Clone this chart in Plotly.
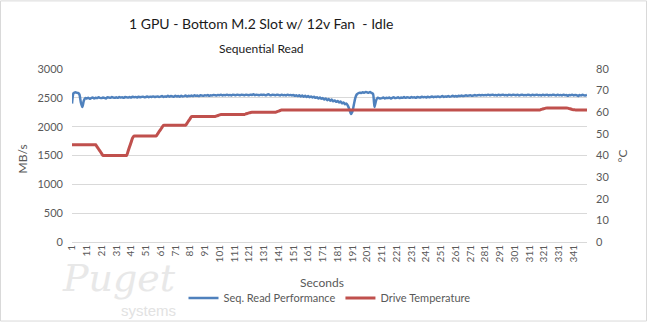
import plotly.graph_objects as go

seconds = list(range(1, 351))
tick_labels = [str(s) for s in range(1, 342, 10)]

read_mbps = [
    2400, 2580, 2595, 2590, 2585, 2560, 2420, 2340, 2450, 2495,
    2490, 2500, 2485, 2495, 2505, 2490, 2500, 2495, 2510, 2500,
    2495, 2505, 2500, 2490, 2510, 2505, 2500, 2515, 2505, 2500,
    2510, 2500, 2515, 2505, 2510, 2500, 2515, 2510, 2505, 2515,
    2505, 2520, 2510, 2515, 2505, 2520, 2510, 2515, 2520, 2510,
    2515, 2525, 2510, 2520, 2515, 2525, 2515, 2520, 2525, 2515,
    2520, 2530, 2515, 2525, 2520, 2535, 2520, 2530, 2525, 2520,
    2535, 2525, 2530, 2520, 2535, 2525, 2530, 2540, 2525, 2535,
    2530, 2540, 2530, 2545, 2535, 2540, 2530, 2545, 2540, 2535,
    2545, 2540, 2550, 2535, 2545, 2540, 2550, 2545, 2540, 2550,
    2545, 2555, 2540, 2550, 2545, 2555, 2545, 2550, 2540, 2555,
    2550, 2545, 2555, 2550, 2545, 2555, 2550, 2545, 2555, 2550,
    2545, 2555, 2550, 2560, 2545, 2555, 2550, 2545, 2555, 2550,
    2555, 2545, 2550, 2560, 2550, 2545, 2555, 2550, 2545, 2555,
    2550, 2540, 2555, 2545, 2550, 2540, 2555, 2545, 2550, 2540,
    2550, 2535, 2545, 2530, 2545, 2525, 2540, 2520, 2535, 2515,
    2530, 2510, 2525, 2505, 2520, 2500, 2510, 2490, 2505, 2485,
    2495, 2470, 2490, 2460, 2480, 2450, 2470, 2440, 2455, 2430,
    2445, 2420, 2435, 2405, 2420, 2390, 2400, 2360, 2300, 2220,
    2260, 2380, 2500, 2560, 2580, 2590, 2585, 2595, 2590, 2600,
    2595, 2590, 2600, 2585, 2570, 2340, 2450, 2500, 2495, 2490,
    2495, 2505, 2490, 2500, 2495, 2505, 2490, 2500, 2510, 2495,
    2500, 2510, 2495, 2505, 2500, 2515, 2500, 2510, 2505, 2500,
    2515, 2505, 2510, 2500, 2515, 2510, 2505, 2520, 2510, 2515,
    2505, 2520, 2510, 2515, 2525, 2510, 2520, 2515, 2525, 2515,
    2520, 2530, 2515, 2525, 2520, 2530, 2520, 2525, 2535, 2525,
    2530, 2525, 2535, 2530, 2540, 2530, 2535, 2545, 2535, 2540,
    2545, 2535, 2540, 2550, 2540, 2545, 2550, 2540, 2550, 2545,
    2550, 2545, 2555, 2545, 2550, 2555, 2545, 2550, 2540, 2555,
    2545, 2550, 2555, 2545, 2550, 2540, 2555, 2550, 2545, 2555,
    2550, 2545, 2555, 2540, 2550, 2555, 2545, 2550, 2545, 2555,
    2550, 2540, 2555, 2545, 2550, 2555, 2545, 2550, 2540, 2555,
    2545, 2550, 2555, 2540, 2550, 2545, 2555, 2550, 2540, 2555,
    2545, 2550, 2540, 2555, 2545, 2550, 2535, 2550, 2545, 2555,
    2540, 2550, 2545, 2530, 2550, 2540, 2555, 2545, 2540, 2550,
]

drive_temp_c = [
    45, 45, 45, 45, 45, 45, 45, 45, 45, 45,
    45, 45, 45, 45, 45, 45, 45, 44, 43, 42,
    41, 40, 40, 40, 40, 40, 40, 40, 40, 40,
    40, 40, 40, 40, 40, 40, 40, 40, 42, 44,
    46, 48, 49, 49, 49, 49, 49, 49, 49, 49,
    49, 49, 49, 49, 49, 49, 49, 49, 50, 51,
    52, 53, 54, 54, 54, 54, 54, 54, 54, 54,
    54, 54, 54, 54, 54, 54, 54, 54, 55, 56,
    57, 58, 58, 58, 58, 58, 58, 58, 58, 58,
    58, 58, 58, 58, 58, 58, 58, 58, 58.3, 58.5,
    58.8, 59, 59, 59, 59, 59, 59, 59, 59, 59,
    59, 59, 59, 59, 59, 59, 59, 59, 59.3, 59.5,
    59.7, 59.9, 60, 60, 60, 60, 60, 60, 60, 60,
    60, 60, 60, 60, 60, 60, 60, 60, 60, 60.3,
    60.5, 60.8, 61, 61, 61, 61, 61, 61, 61, 61,
    61, 61, 61, 61, 61, 61, 61, 61, 61, 61,
    61, 61, 61, 61, 61, 61, 61, 61, 61, 61,
    61, 61, 61, 61, 61, 61, 61, 61, 61, 61,
    61, 61, 61, 61, 61, 61, 61, 61, 61, 61,
    61, 61, 61, 61, 61, 61, 61, 61, 61, 61,
    61, 61, 61, 61, 61, 61, 61, 61, 61, 61,
    61, 61, 61, 61, 61, 61, 61, 61, 61, 61,
    61, 61, 61, 61, 61, 61, 61, 61, 61, 61,
    61, 61, 61, 61, 61, 61, 61, 61, 61, 61,
    61, 61, 61, 61, 61, 61, 61, 61, 61, 61,
    61, 61, 61, 61, 61, 61, 61, 61, 61, 61,
    61, 61, 61, 61, 61, 61, 61, 61, 61, 61,
    61, 61, 61, 61, 61, 61, 61, 61, 61, 61,
    61, 61, 61, 61, 61, 61, 61, 61, 61, 61,
    61, 61, 61, 61, 61, 61, 61, 61, 61, 61,
    61, 61, 61, 61, 61, 61, 61, 61, 61, 61,
    61, 61, 61, 61, 61, 61, 61, 61, 61.3, 61.5,
    61.7, 61.9, 62, 62, 62, 62, 62, 62, 62, 62,
    62, 62, 62, 62, 62, 62, 61.9, 61.7, 61.5, 61.3,
    61.2, 61.1, 61, 61, 61, 61, 61, 61, 61, 61,
]

W, H = 647, 323
ML, MR, MT, MB = 72, 60, 69, 80
PW, PH = W - ML - MR, H - MT - MB
FONT = "Lato, 'Open Sans', sans-serif"
TXT = "#595959"


def px_x(px):
    return (px - ML) / PW


def px_y(py):
    return (H - MB - py) / PH


fig = go.Figure()
fig.add_trace(go.Scatter(
    x=seconds, y=read_mbps, name="Seq. Read Performance", mode="lines",
    line=dict(color="#4F81BD", width=2.5, shape="spline", smoothing=0.6),
))
fig.add_trace(go.Scatter(
    x=seconds, y=drive_temp_c, name="Drive Temperature", mode="lines", yaxis="y2",
    line=dict(color="#C0504D", width=3, shape="spline", smoothing=0.6),
))

fig.update_layout(
    width=W, height=H,
    margin=dict(l=ML, r=MR, t=MT, b=MB),
    paper_bgcolor="white", plot_bgcolor="white",
    font=dict(family=FONT, color=TXT, size=11),
    showlegend=True,
    legend=dict(orientation="h", x=0.5, xanchor="center", y=px_y(298), yanchor="middle",
                font=dict(size=11, color=TXT), itemwidth=30, tracegroupgap=0),
    xaxis=dict(range=[1, 350], tickvals=list(range(1, 342, 10)), ticktext=tick_labels,
               tickangle=-90, showgrid=False, zeroline=False, showline=False, ticks="",
               tickfont=dict(size=10, color=TXT)),
    yaxis=dict(range=[0, 3000], dtick=500, showgrid=True, gridcolor="#d9d9d9", gridwidth=1,
               zeroline=True, zerolinecolor="#d9d9d9", zerolinewidth=1, showline=False,
               ticks="", ticklabelstandoff=8, tickfont=dict(size=11, color=TXT)),
    yaxis2=dict(range=[0, 80], dtick=10, overlaying="y", side="right", showgrid=False,
                zeroline=False, showline=False, ticks="", ticklabelstandoff=8,
                tickfont=dict(size=11, color=TXT)),
    shapes=[dict(type="rect", xref="paper", yref="paper",
                 x0=px_x(0.5), x1=px_x(W - 0.5), y0=px_y(H - 0.5), y1=px_y(0.5),
                 line=dict(color="#d9d9d9", width=1), layer="below")],
    annotations=[
        dict(text="Puget", x=px_x(178), y=px_y(303), xref="paper", yref="paper",
             showarrow=False, xanchor="right", yanchor="bottom",
             font=dict(family="DejaVu Serif", size=38, color="#e8e8e8", style="italic")),
        dict(text="systems", x=px_x(178), y=px_y(322), xref="paper", yref="paper",
             showarrow=False, xanchor="right", yanchor="bottom",
             font=dict(family="Liberation Sans", size=15, color="#e2e2e2")),
        dict(text="1 GPU - Bottom M.2 Slot w/ 12v Fan \u00a0- Idle", x=px_x(261), y=px_y(23),
             xref="paper", yref="paper", showarrow=False, xanchor="center", yanchor="middle",
             font=dict(family=FONT, size=14, color="#1a1a1a")),
        dict(text="Sequential Read", x=px_x(261), y=px_y(48), xref="paper", yref="paper",
             showarrow=False, xanchor="center", yanchor="middle",
             font=dict(family=FONT, size=12, color="#1a1a1a")),
        dict(text="Seconds", x=px_x(322), y=px_y(284), xref="paper", yref="paper",
             showarrow=False, xanchor="center", yanchor="middle",
             font=dict(family=FONT, size=12, color=TXT)),
        dict(text="MB/s", x=px_x(22), y=px_y(160), xref="paper", yref="paper",
             showarrow=False, xanchor="center", yanchor="middle", textangle=-90,
             font=dict(family=FONT, size=12, color=TXT)),
        dict(text="°C", x=px_x(622), y=px_y(157), xref="paper", yref="paper",
             showarrow=False, xanchor="center", yanchor="middle", textangle=-90,
             font=dict(family=FONT, size=12, color=TXT)),
    ],
)

fig.write_html("out.html")
